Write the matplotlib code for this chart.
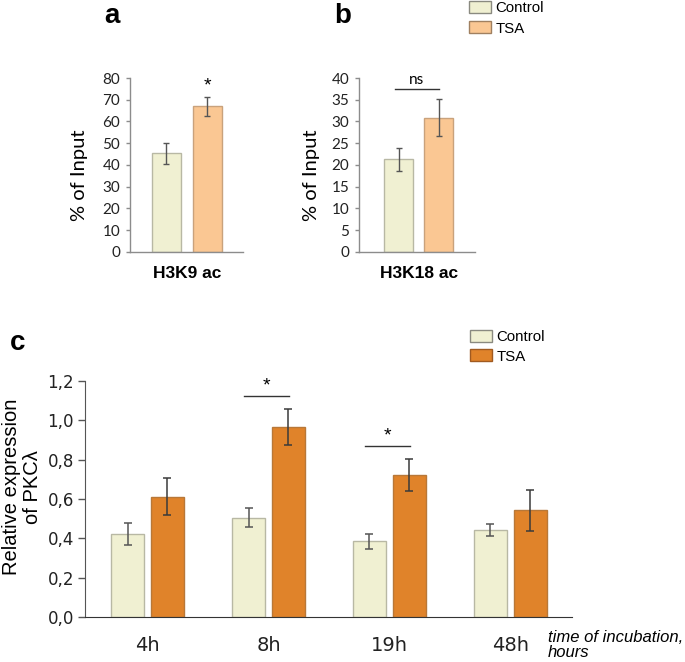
import matplotlib
matplotlib.use("Agg")
import matplotlib.pyplot as plt
from matplotlib.patches import Patch
import numpy as np

# ---------------- data ----------------
a_category = ["H3K9 ac"]
a_control = [45.4]
a_control_err = [4.75]
a_tsa = [66.9]
a_tsa_err = [4.2]
a_yticks = [0, 10, 20, 30, 40, 50, 60, 70, 80]

b_category = ["H3K18 ac"]
b_control = [21.3]
b_control_err = [2.7]
b_tsa = [30.9]
b_tsa_err = [4.25]
b_yticks = [0, 5, 10, 15, 20, 25, 30, 35, 40]

c_times = ["4h", "8h", "19h", "48h"]
c_control = [0.422, 0.505, 0.384, 0.443]
c_control_err = [0.057, 0.047, 0.040, 0.031]
c_tsa = [0.612, 0.967, 0.722, 0.543]
c_tsa_err = [0.093, 0.092, 0.079, 0.105]
c_yticks = [0.0, 0.2, 0.4, 0.6, 0.8, 1.0, 1.2]
c_yticklabels = ["0,0", "0,2", "0,4", "0,6", "0,8", "1,0", "1,2"]

# ---------------- styles ----------------
CTRL = "#F0F0D2"
CTRL_EDGE = "#B8B8A4"
TSA_LIGHT = "#FAC793"
TSA_LIGHT_EDGE = "#C9A27C"
TSA_DARK = "#E0832A"
TSA_DARK_EDGE = "#B87838"
ERR = "#3A3A3A"
NARROW = ["Liberation Sans Narrow", "DejaVu Sans"]
SANS = ["Liberation Sans", "DejaVu Sans"]
SOFT = ["Lato", "DejaVu Sans"]

W, H = 685, 662
fig = plt.figure(figsize=(W / 100, H / 100), dpi=100)


def fax(l, t, r, b):
    return fig.add_axes([l / W, 1 - b / H, (r - l) / W, (b - t) / H])


def small_panel(ax, ctrl, ctrl_err, tsa, tsa_err, cat, yticks, xlim, width, ylab_x):
    x = np.array([0.0, 1.0])
    ax.bar(x[0], ctrl[0], width=width, color=CTRL, edgecolor=CTRL_EDGE, linewidth=1.0, zorder=2)
    ax.bar(x[1], tsa[0], width=width, color=TSA_LIGHT, edgecolor=TSA_LIGHT_EDGE, linewidth=1.0, zorder=2)
    ax.errorbar(x, [ctrl[0], tsa[0]], yerr=[ctrl_err[0], tsa_err[0]], fmt="none",
                ecolor="#555555", elinewidth=1.0, capsize=2.5, capthick=1.0, zorder=3)
    ax.set_xlim(*xlim)
    ax.set_ylim(yticks[0], yticks[-1])
    ax.set_yticks(yticks)
    ax.set_xticks([0.5])
    ax.set_xticklabels(cat, fontsize=12.5, fontweight="bold", family=SANS)
    for s in ["top", "right"]:
        ax.spines[s].set_visible(False)
    for s in ["left", "bottom"]:
        ax.spines[s].set_color("#8C8C8C")
        ax.spines[s].set_linewidth(1.0)
    ax.tick_params(axis="y", length=3, width=1.0, color="#8C8C8C", pad=4, labelsize=11)
    ax.tick_params(axis="x", length=0, pad=10)
    for t in ax.get_yticklabels():
        t.set_family(SOFT)
        t.set_color("#222222")
    ax.set_ylabel("% of Input", fontsize=14.5, family=SOFT)
    ax.yaxis.set_label_coords(ylab_x, 0.44)


# ---------------- panel a ----------------
axa = fax(130, 78, 243, 252)
small_panel(axa, a_control, a_control_err, a_tsa, a_tsa_err, a_category, a_yticks,
            (-0.89, 1.87), 0.71, (88 - 130) / 113)
axa.text(1.0, 76.5, "*", ha="center", va="center", fontsize=14, family=SANS)
fig.text(112 / W, 1 - 16 / H, "a", fontsize=20, fontweight="bold", family=SANS,
         ha="center", va="center")

# ---------------- panel b ----------------
axb = fax(359, 78, 475, 252)
small_panel(axb, b_control, b_control_err, b_tsa, b_tsa_err, b_category, b_yticks,
            (-0.99, 1.91), 0.725, (320 - 359) / 116)
axb.plot([-0.09, 1.01], [37.5, 37.5], color="#333333", lw=1.0, clip_on=False)
axb.text(0.46, 39.6, "ns", ha="center", va="center", fontsize=11, family=SOFT)
fig.text(343 / W, 1 - 16 / H, "b", fontsize=20, fontweight="bold", family=SANS,
         ha="center", va="center")

leg1 = fig.legend(handles=[Patch(facecolor=CTRL, edgecolor="#8A8A80", lw=1.0),
                           Patch(facecolor=TSA_LIGHT, edgecolor="#A08060", lw=1.0)],
                  labels=["Control", "TSA"], loc="upper left",
                  bbox_to_anchor=(469 / W, 1 - 1 / H), frameon=False,
                  prop={"family": SANS, "size": 10.8}, handlelength=1.45,
                  handleheight=0.85, handletextpad=0.3, labelspacing=0.42,
                  borderpad=0, borderaxespad=0)

# ---------------- panel c ----------------
axc = fax(85, 381, 572, 617)
xc = np.arange(len(c_times))
off = 0.165
bw = 0.273
axc.bar(xc - off, c_control, width=bw, color=CTRL, edgecolor=CTRL_EDGE, linewidth=1.0, zorder=2)
axc.bar(xc + off, c_tsa, width=bw, color=TSA_DARK, edgecolor=TSA_DARK_EDGE, linewidth=1.0, zorder=2)
axc.errorbar(xc - off, c_control, yerr=c_control_err, fmt="none", ecolor="#555555",
             elinewidth=1.1, capsize=3, capthick=1.1, zorder=3)
axc.errorbar(xc + off, c_tsa, yerr=c_tsa_err, fmt="none", ecolor=ERR,
             elinewidth=1.1, capsize=3, capthick=1.1, zorder=3)
axc.set_xlim(-0.517, 3.51)
axc.set_ylim(0, 1.2)
axc.set_yticks(c_yticks)
axc.set_yticklabels(c_yticklabels)
axc.set_xticks(xc)
axc.set_xticklabels(c_times)
for s in ["top", "right"]:
    axc.spines[s].set_visible(False)
axc.spines["left"].set_color("#555555")
axc.spines["bottom"].set_color("#333333")
axc.tick_params(axis="y", length=5, width=1.0, color="#555555", pad=3, labelsize=12)
axc.tick_params(axis="x", length=0, pad=14, labelsize=14)
for t in axc.get_yticklabels() + axc.get_xticklabels():
    t.set_family(NARROW)
    t.set_color("#222222")
axc.set_ylabel("Relative expression\nof PKCλ", fontsize=14.5, family=SANS,
               linespacing=1.15)
axc.yaxis.set_label_coords((42 - 85) / 487, 0.55)

# significance marks
sig_groups = [1, 2]
sig_heights = [1.126, 0.870]
for g, h in zip(sig_groups, sig_heights):
    axc.plot([g - 0.2, g + 0.17], [h, h], color="#333333", lw=1.0)
    axc.text(g - 0.015, h + 0.05, "*", ha="center", va="center", fontsize=14, family=SANS)

fig.text(548 / W, 1 - 645 / H, "time of incubation,\nhours", fontsize=12,
         style="italic", family=SANS, ha="left", va="center", linespacing=1.0)
fig.text(18 / W, 1 - 343 / H, "c", fontsize=20, fontweight="bold", family=SANS,
         ha="center", va="center")

leg2 = fig.legend(handles=[Patch(facecolor=CTRL, edgecolor="#8A8A80", lw=1.0),
                           Patch(facecolor=TSA_DARK, edgecolor="#A05A20", lw=1.0)],
                  labels=["Control", "TSA"], loc="upper left",
                  bbox_to_anchor=(470 / W, 1 - 330 / H), frameon=False,
                  prop={"family": SANS, "size": 10.8}, handlelength=1.45,
                  handleheight=0.85, handletextpad=0.3, labelspacing=0.35,
                  borderpad=0, borderaxespad=0)

fig.savefig("out.png", dpi=100)
